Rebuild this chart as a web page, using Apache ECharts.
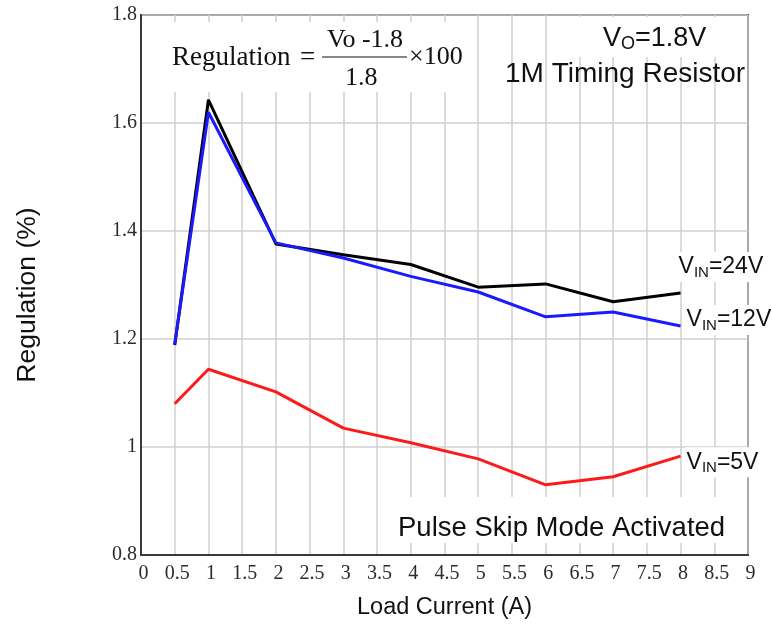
<!DOCTYPE html>
<html>
<head>
<meta charset="utf-8">
<script src="https://cdn.jsdelivr.net/npm/echarts@6/dist/echarts.min.js"></script>
<style>
  html, body { margin: 0; padding: 0; background: #fff; }
  #chart { width: 771px; height: 630px; }
</style>
</head>
<body>
<div id="chart"></div>
<script>
// load current (A)
const loadCurrent = [0.5, 1, 2, 3, 4, 5, 6, 7, 8];
// regulation (%) per input voltage
const vin24 = [1.189, 1.643, 1.376, 1.356, 1.338, 1.296, 1.302, 1.269, 1.285];
const vin12 = [1.19, 1.62, 1.378, 1.35, 1.316, 1.287, 1.241, 1.25, 1.224];
const vin5 = [1.08, 1.144, 1.102, 1.035, 1.008, 0.978, 0.93, 0.945, 0.983];

const toPairs = (ys) => ys.map((y, i) => [loadCurrent[i], y]);

const serif = "'Liberation Serif', 'DejaVu Serif', serif";
const sans = "'Liberation Sans', Arial, sans-serif";

function vinLabel(name, offset) {
  return {
    show: true,
    formatter: () => "{v|V}{s|IN}{v|=" + name + "}",
    offset: offset,
    backgroundColor: "#fff",
    padding: [2, 2, 2, 2],
    rich: {
      v: { fontFamily: sans, fontSize: 23, color: "#111", lineHeight: 26 },
      s: { fontFamily: sans, fontSize: 15, color: "#111", lineHeight: 16, verticalAlign: "bottom" },
    },
  };
}

function makeSeries(name, data, color, offset) {
  return {
    name: name,
    type: "line",
    data: toPairs(data),
    symbol: "none",
    lineStyle: { width: 3, color: color },
    itemStyle: { color: color },
    endLabel: vinLabel(name, offset),
    z: 3,
  };
}

const myChart = echarts.init(document.getElementById("chart"));
const option = {
  animation: false,
  backgroundColor: "#fff",
  grid: {
    left: 141,
    right: 23,
    top: 15,
    bottom: 75,
    show: true,
    borderColor: "#3a3a3a",
    borderWidth: 2,
  },
  xAxis: {
    type: "value",
    min: 0,
    max: 9,
    interval: 0.5,
    name: "Load Current (A)",
    nameLocation: "middle",
    nameGap: 41,
    nameTextStyle: { fontFamily: sans, fontSize: 23.5, color: "#111" },
    axisLine: { show: true, lineStyle: { color: "#3a3a3a", width: 2 } },
    axisTick: { show: false },
    axisLabel: {
      fontFamily: serif,
      fontSize: 20,
      color: "#2b2b2b",
      margin: 9,
      padding: [0, 0, 0, 5],
      formatter: (v) => String(+v.toFixed(1)),
    },
    splitLine: { show: true, lineStyle: { color: "#cfcfcf", width: 1.5 } },
  },
  yAxis: {
    type: "value",
    min: 0.8,
    max: 1.8,
    interval: 0.2,
    name: "Regulation (%)",
    nameLocation: "middle",
    nameGap: 100,
    nameTextStyle: { fontFamily: sans, fontSize: 26.5, color: "#111", padding: [0, 20, 0, 0] },
    axisLine: { show: true, lineStyle: { color: "#3a3a3a", width: 2 } },
    axisTick: { show: false },
    axisLabel: {
      fontFamily: serif,
      fontSize: 20,
      color: "#2b2b2b",
      margin: 4,
      formatter: (v) => String(+v.toFixed(1)),
    },
    splitLine: { show: true, lineStyle: { color: "#cfcfcf", width: 1.5 } },
  },
  graphic: [
    // white boxes behind the notes
    { type: "rect", z: 50, shape: { x: 160, y: 22, width: 312, height: 70 }, style: { fill: "#fff" } },
    { type: "rect", z: 50, shape: { x: 566, y: 17, width: 180, height: 40 }, style: { fill: "#fff" } },
    { type: "rect", z: 50, shape: { x: 390, y: 497, width: 356, height: 46 }, style: { fill: "#fff" } },
    // formula
    {
      type: "text", z: 60, left: 172, top: 44,
      style: { text: "Regulation", fontFamily: serif, fontSize: 27, fill: "#111" },
    },
    {
      type: "text", z: 60, left: 300, top: 44,
      style: { text: "=", fontFamily: serif, fontSize: 27, fill: "#111" },
    },
    {
      type: "text", z: 60, left: 327, top: 27,
      style: { text: "Vo -1.8", fontFamily: serif, fontSize: 26, fill: "#111" },
    },
    {
      type: "line", z: 60,
      shape: { x1: 322, y1: 57, x2: 407, y2: 57 },
      style: { stroke: "#111", lineWidth: 1.2 },
    },
    {
      type: "text", z: 60, left: 345, top: 65,
      style: { text: "1.8", fontFamily: serif, fontSize: 26, fill: "#111" },
    },
    {
      type: "text", z: 60, left: 409, top: 44,
      style: { text: "×100", fontFamily: serif, fontSize: 26, fill: "#111" },
    },
    // conditions
    {
      type: "text", z: 60, left: 603, top: 25,
      style: {
        text: "{v|V}{s|O}{v|=1.8V}",
        rich: {
          v: { fontFamily: sans, fontSize: 27, fill: "#111", lineHeight: 30 },
          s: { fontFamily: sans, fontSize: 18, fill: "#111", lineHeight: 18, verticalAlign: "bottom" },
        },
      },
    },
    {
      type: "text", z: 60, left: 505, top: 60,
      style: { text: "1M Timing Resistor", fontFamily: sans, fontSize: 28, fill: "#111" },
    },
    {
      type: "text", z: 60, left: 398, top: 514,
      style: { text: "Pulse Skip Mode Activated", fontFamily: sans, fontSize: 27.5, fill: "#111" },
    },
  ],
  series: [
    makeSeries("24V", vin24, "#000000", [-12, -26]),
    makeSeries("12V", vin12, "#1a1aff", [-4, -6]),
    makeSeries("5V", vin5, "#ff1a1a", [-4, 6]),
  ],
};
myChart.setOption(option);
window.onresize = myChart.resize;
</script>
</body>
</html>
